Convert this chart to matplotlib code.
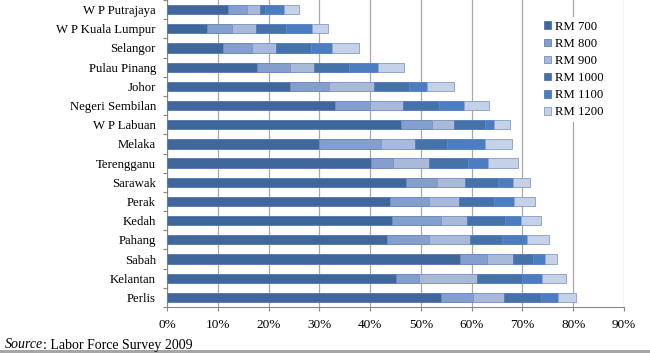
"""Stacked horizontal bars: share of workers by wage threshold, per state."""

import matplotlib
matplotlib.use("Agg")
import matplotlib.pyplot as plt
import numpy as np
from matplotlib.patches import Patch, Rectangle
from matplotlib.ticker import FuncFormatter, MultipleLocator

plt.rcParams["font.family"] = ["Liberation Serif", "DejaVu Serif"]

states = [
    "W P Putrajaya", "W P Kuala Lumpur", "Selangor", "Pulau Pinang", "Johor",
    "Negeri Sembilan", "W P Labuan", "Melaka", "Terengganu", "Sarawak",
    "Perak", "Kedah", "Pahang", "Sabah", "Kelantan", "Perlis",
]
series_names = ["RM 700", "RM 800", "RM 900", "RM 1000", "RM 1100", "RM 1200"]

# segment widths in percent
rm700 = [12.0, 7.8, 11.1, 17.8, 24.3, 33.1, 46.0, 29.9, 40.1, 47.1, 43.9, 44.3, 43.3, 57.7, 45.1, 54.0]
rm800 = [3.8, 5.0, 5.7, 6.4, 7.6, 6.9, 6.1, 12.3, 4.4, 6.0, 7.6, 9.6, 8.2, 5.3, 4.6, 6.2]
rm900 = [2.6, 4.8, 4.6, 4.7, 8.9, 6.4, 4.5, 6.7, 7.1, 5.5, 6.1, 5.2, 8.2, 5.2, 11.3, 6.2]
rm1000 = [0.9, 5.9, 6.9, 7.0, 6.8, 7.1, 6.0, 6.3, 7.7, 6.5, 6.7, 7.4, 6.3, 3.9, 8.9, 7.2]
rm1100 = [3.7, 5.0, 4.2, 5.6, 3.6, 4.9, 1.7, 7.4, 3.9, 3.0, 4.1, 3.2, 4.8, 2.4, 3.9, 3.5]
rm1200 = [3.0, 3.3, 5.3, 5.2, 5.3, 5.1, 3.3, 5.4, 6.0, 3.3, 4.0, 3.9, 4.5, 2.4, 4.8, 3.4]

colors = ["#3f679c", "#849fcd", "#a9b9da", "#4672aa", "#4b7dc0", "#c5d1e7"]
edges = ["#5a7fb3", "#6b8cc2", "#7e98c8", "#5a80b8", "#5a86c2", "#8fa6cf"]

fig = plt.figure(figsize=(6.5, 3.53), dpi=100)
ax = fig.add_axes([167 / 650, 1 - 307 / 353, (624 - 167) / 650, 307 / 353])

y = np.arange(len(states))
left = np.zeros(len(states))
for vals, name, c, ec in zip([rm700, rm800, rm900, rm1000, rm1100, rm1200],
                             series_names, colors, edges):
    ax.barh(y, vals, left=left, height=0.48, color=c, edgecolor=ec,
            linewidth=0.7, label=name, zorder=3)
    left += np.array(vals)

ax.set_ylim(len(states) - 0.5, -0.5)
ax.set_xlim(0, 90)
ax.set_yticks(y)
ax.set_yticklabels(states, fontsize=9.2)
ax.set_yticks(np.arange(len(states) + 1) - 0.5, minor=True)
ax.tick_params(axis="y", which="major", length=0, pad=8)
ax.tick_params(axis="y", which="minor", length=3, color="#868686", width=0.8)
ax.xaxis.set_major_locator(MultipleLocator(10))
ax.xaxis.set_major_formatter(FuncFormatter(lambda v, _: f"{v:.0f}%"))
ax.tick_params(axis="x", labelsize=9.5, length=3, color="#868686", width=0.8, pad=5.5)

ax.grid(axis="x", color="#a8a8a8", linewidth=0.9, zorder=0)
ax.set_axisbelow(True)
for s in ("top", "right"):
    ax.spines[s].set_visible(False)
for s in ("left", "bottom"):
    ax.spines[s].set_color("#868686")
    ax.spines[s].set_linewidth(0.8)

handles = [Patch(facecolor=c, edgecolor=ec, linewidth=0.7) for c, ec in zip(colors, edges)]
ax.legend(handles, series_names, loc="upper left",
          bbox_to_anchor=(540 / 650, 1 - 17 / 353), bbox_transform=fig.transFigure,
          frameon=True, facecolor="white", edgecolor="none", framealpha=1,
          fontsize=9.2, handlelength=0.55, handleheight=0.55, handletextpad=0.35,
          labelspacing=0.4, borderpad=0.3, borderaxespad=0)

# source note: italic "Source" followed by the plain remainder
t = fig.text(5 / 650, 1 - 345 / 353, "Source", fontsize=10, style="italic", va="center")
fig.canvas.draw()
bb = t.get_window_extent()
fig.text(bb.x1 / fig.bbox.width, 1 - 345 / 353, ": Labor Force Survey 2009",
         fontsize=10, va="center")

fig.patches.append(Rectangle((0, 0), 1, 3 / 353, transform=fig.transFigure,
                             facecolor="#a6a6a6", edgecolor="none"))

fig.savefig("out.png", dpi=100)
